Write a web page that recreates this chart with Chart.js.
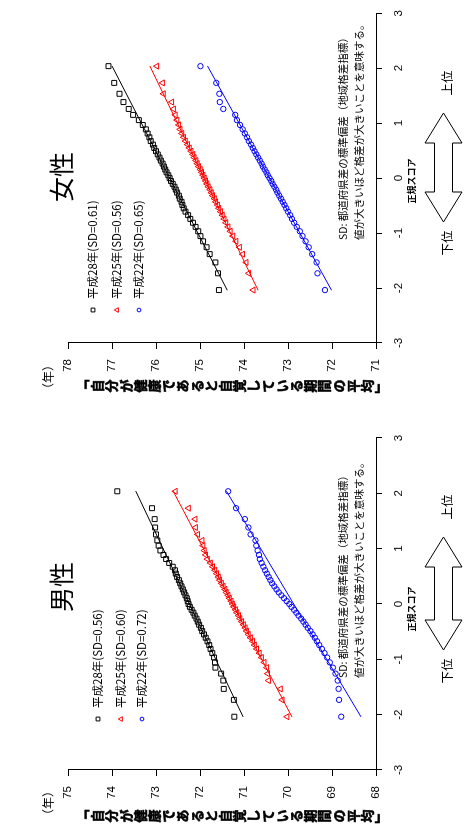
<!DOCTYPE html>
<html>
<head>
<meta charset="utf-8">
<script src="https://cdn.jsdelivr.net/npm/chart.js@4.4.0/dist/chart.umd.min.js"></script>
<style>
html, body { margin: 0; padding: 0; background: #fff; overflow: hidden; }
/* the chart is laid out landscape (824x465) and turned a quarter turn to the left */
#page { position: absolute; left: 0; top: 0; width: 824px; height: 465px;
        transform-origin: 0 0; transform: translate(0, 824px) rotate(-90deg); }
.panel { position: absolute; top: 0; width: 412px; height: 465px; }
</style>
</head>
<body>
<div id="page">
  <div class="panel" style="left:0"><canvas id="male" width="412" height="465"></canvas></div>
  <div class="panel" style="left:412px"><canvas id="female" width="412" height="465"></canvas></div>
</div>
<script>
// normal scores of the 47 prefecture ranks (lowest to highest)
const normalScores = [-2.037,-1.732,-1.534,-1.383,-1.258,-1.150,-1.055,-0.967,-0.887,-0.812,-0.742,-0.674,-0.610,-0.549,-0.489,-0.431,-0.374,-0.319,-0.264,-0.210,-0.157,-0.105,-0.052,0,0.052,0.105,0.157,0.210,0.264,0.319,0.374,0.431,0.489,0.549,0.610,0.674,0.742,0.812,0.887,0.967,1.055,1.150,1.258,1.383,1.534,1.732,2.037];

const femaleH28 = [74.57,74.59,74.65,74.78,74.85,74.93,74.99,75.04,75.10,75.16,75.22,75.27,75.33,75.37,75.40,75.42,75.46,75.48,75.52,75.55,75.58,75.62,75.66,75.69,75.72,75.76,75.79,75.82,75.85,75.89,75.92,75.96,76.00,76.04,76.07,76.12,76.15,76.19,76.23,76.30,76.39,76.52,76.62,76.74,76.83,76.95,77.08];
const femaleH25 = [73.79,73.89,73.95,74.03,74.10,74.18,74.25,74.31,74.36,74.41,74.45,74.49,74.53,74.57,74.60,74.64,74.67,74.71,74.74,74.77,74.81,74.84,74.87,74.90,74.93,74.96,74.99,75.03,75.06,75.09,75.13,75.16,75.20,75.24,75.28,75.33,75.37,75.41,75.45,75.48,75.52,75.56,75.60,75.64,75.83,75.85,75.98];
const femaleH22 = [72.16,72.33,72.35,72.45,72.53,72.60,72.67,72.73,72.80,72.86,72.91,72.95,73.00,73.04,73.08,73.12,73.16,73.20,73.24,73.27,73.31,73.35,73.38,73.42,73.46,73.49,73.53,73.57,73.60,73.64,73.68,73.72,73.76,73.80,73.84,73.89,73.93,73.98,74.03,74.09,74.16,74.20,74.47,74.55,74.56,74.63,74.99];

const maleH28 = [71.22,71.23,71.46,71.47,71.52,71.65,71.66,71.68,71.72,71.76,71.79,71.83,71.87,71.91,71.95,71.98,72.02,72.05,72.08,72.12,72.15,72.19,72.23,72.26,72.28,72.30,72.33,72.36,72.39,72.42,72.45,72.48,72.52,72.55,72.57,72.62,72.70,72.77,72.83,72.90,72.94,72.97,73.00,73.02,73.03,73.09,73.88];
const maleH25 = [70.02,70.13,70.17,70.44,70.46,70.48,70.54,70.60,70.65,70.71,70.76,70.80,70.85,70.90,70.94,70.97,71.01,71.05,71.09,71.12,71.16,71.19,71.23,71.26,71.29,71.33,71.36,71.40,71.43,71.47,71.51,71.55,71.58,71.62,71.66,71.71,71.76,71.83,71.87,71.90,71.93,71.95,72.05,72.10,72.11,72.26,72.56];
const maleH22 = [68.79,68.84,68.85,68.87,68.92,68.98,69.05,69.11,69.17,69.23,69.29,69.34,69.39,69.44,69.49,69.55,69.60,69.65,69.70,69.76,69.81,69.86,69.92,69.97,70.03,70.09,70.15,70.21,70.26,70.31,70.36,70.40,70.44,70.48,70.52,70.56,70.60,70.64,70.66,70.69,70.72,70.74,70.85,70.90,70.98,71.18,71.36];

// fitted lines, value at each end of trendZ
const trendZ = [-2.04, 2.04];
const trendF28 = [74.38, 77.00];
const trendF25 = [73.68, 76.14];
const trendF22 = [72.01, 74.83];
const trendM28 = [71.02, 73.46];
const trendM25 = [69.91, 72.61];
const trendM22 = [68.34, 71.40];

const femaleLabels = ['平成28年(SD=0.61)', '平成25年(SD=0.56)', '平成22年(SD=0.65)'];
const maleLabels = ['平成28年(SD=0.56)', '平成25年(SD=0.60)', '平成22年(SD=0.72)'];

const colors = ['#000000', '#ff0000', '#0000ff'];
const markers = ['rect', 'triangle', 'circle'];
const markerSize = [3.5, 3.5, 2.7];

const yTitle = '「自分が健康であると自覚している期間の平均」';
const noteLines = ['SD: 都道府県差の標準偏差（地域格差指標）', '値が大きいほど格差が大きいことを意味する。'];

const JP = '"Noto Sans CJK JP", "Noto Sans", sans-serif';
const NUM = '"Liberation Sans", Arial, sans-serif';

const decor = {
  id: 'decor',
  afterDraw(chart, args, o) {
    const ctx = chart.ctx;
    ctx.save();
    ctx.fillStyle = '#000';
    ctx.strokeStyle = '#000';

    // panel title
    ctx.font = '25px ' + JP;
    ctx.textAlign = 'center';
    ctx.textBaseline = 'middle';
    ctx.fillText(o.title, o.titleX, o.titleY);

    // unit
    ctx.font = '12px ' + JP;
    ctx.fillText('（年）', o.unitX, 48);

    // vertical axis title, one character under the other
    ctx.font = 'bold 13px ' + JP;
    ctx.lineWidth = 0.6;
    const chars = Array.from(yTitle);
    chars.forEach((c, i) => {
      const y = 76 + 14.2 * (i + 0.5);
      ctx.save();
      ctx.translate(o.colX, y);
      if (c === '「' || c === '」') ctx.rotate(Math.PI / 2);
      ctx.fillText(c, 0, 0);
      ctx.strokeText(c, 0, 0);
      ctx.restore();
    });

    // legend
    ctx.textAlign = 'left';
    ctx.font = '11.5px ' + JP;
    o.labels.forEach((t, i) => {
      const y = o.legendY[i];
      ctx.save();
      ctx.strokeStyle = colors[i];
      ctx.fillStyle = '#fff';
      ctx.lineWidth = 1;
      Chart.helpers.drawPoint(ctx, {pointStyle: markers[i], radius: markerSize[i] - 0.8, borderWidth: 1}, o.legendX, y);
      ctx.restore();
      ctx.fillText(t, o.legendX + 11, y);
    });

    // note
    ctx.font = '10.5px ' + JP;
    ctx.fillText(noteLines[0], o.noteX, 343);
    ctx.fillText(noteLines[1], o.noteX, 359);

    // x axis title
    ctx.textAlign = 'center';
    ctx.font = 'bold 9px ' + JP;
    ctx.fillText('正規スコア', o.scoreX, 412);

    // double arrow
    const x1 = o.arrowX[0], x2 = o.arrowX[1], cy = 443.5, hl = 30, hh = 18.5, sh = 9;
    ctx.beginPath();
    ctx.moveTo(x1, cy);
    ctx.lineTo(x1 + hl, cy - hh);
    ctx.lineTo(x1 + hl, cy - sh);
    ctx.lineTo(x2 - hl, cy - sh);
    ctx.lineTo(x2 - hl, cy - hh);
    ctx.lineTo(x2, cy);
    ctx.lineTo(x2 - hl, cy + hh);
    ctx.lineTo(x2 - hl, cy + sh);
    ctx.lineTo(x1 + hl, cy + sh);
    ctx.lineTo(x1 + hl, cy + hh);
    ctx.closePath();
    ctx.fillStyle = '#fff';
    ctx.fill();
    ctx.lineWidth = 1;
    ctx.stroke();

    ctx.fillStyle = '#000';
    ctx.font = '12.5px ' + JP;
    ctx.fillText('下位', x1 - 21, 447);
    ctx.fillText('上位', x2 + 30, 447);
    ctx.restore();
  }
};

function makeChart(id, series, trends, yMin, yMax, plotLeft, deco) {
  const datasets = [];
  series.forEach((vals, i) => {
    datasets.push({
      label: deco.labels[i],
      data: normalScores.map((z, k) => ({x: z, y: vals[k]})),
      pointStyle: markers[i],
      pointRadius: markerSize[i],
      pointBorderWidth: 1,
      borderColor: colors[i],
      backgroundColor: 'rgba(0,0,0,0)',
      showLine: false
    });
  });
  trends.forEach((t, i) => {
    datasets.push({
      label: 'fit' + i,
      data: trendZ.map((z, k) => ({x: z, y: t[k]})),
      showLine: true,
      pointRadius: 0,
      borderColor: colors[i],
      borderWidth: 1
    });
  });

  const yW = 40, xH = 30;
  return new Chart(document.getElementById(id), {
    type: 'scatter',
    data: { datasets },
    options: {
      responsive: false,
      animation: false,
      events: [],
      layout: { padding: { left: plotLeft - yW, right: 412 - deco.plotRight, top: 68, bottom: 465 - 376 - xH } },
      plugins: { legend: { display: false }, tooltip: { enabled: false }, decor: deco },
      scales: {
        x: {
          type: 'linear', min: -3, max: 3,
          ticks: { stepSize: 1, color: '#000', font: { family: NUM, size: 11.5 }, padding: 10, maxRotation: 0 },
          grid: { drawOnChartArea: false, tickLength: 6, color: '#000' },
          border: { color: '#000' },
          afterFit: s => { s.height = xH; }
        },
        y: {
          min: yMin, max: yMax,
          ticks: { stepSize: 1, color: '#000', font: { family: NUM, size: 11.5 }, padding: 10 },
          grid: { drawOnChartArea: false, tickLength: 6, color: '#000' },
          border: { color: '#000' },
          afterFit: s => { s.width = yW; }
        }
      }
    },
    plugins: [decor]
  });
}

makeChart('male', [maleH28, maleH25, maleH22], [trendM28, trendM25, trendM22], 68, 75, 54, {
  title: '男性', titleX: 237, titleY: 61, unitX: 21, colX: 8,
  labels: maleLabels, legendX: 105, legendY: [98, 121, 142],
  noteX: 146, scoreX: 215, arrowX: [174, 287], plotRight: 386
});

makeChart('female', [femaleH28, femaleH25, femaleH22], [trendF28, trendF25, trendF22], 71, 78, 69, {
  title: '女性', titleX: 235, titleY: 61, unitX: 35, colX: 26,
  labels: femaleLabels, legendX: 102, legendY: [93, 117, 139],
  noteX: 172, scoreX: 231, arrowX: [190, 299], plotRight: 402
});
</script>
</body>
</html>
